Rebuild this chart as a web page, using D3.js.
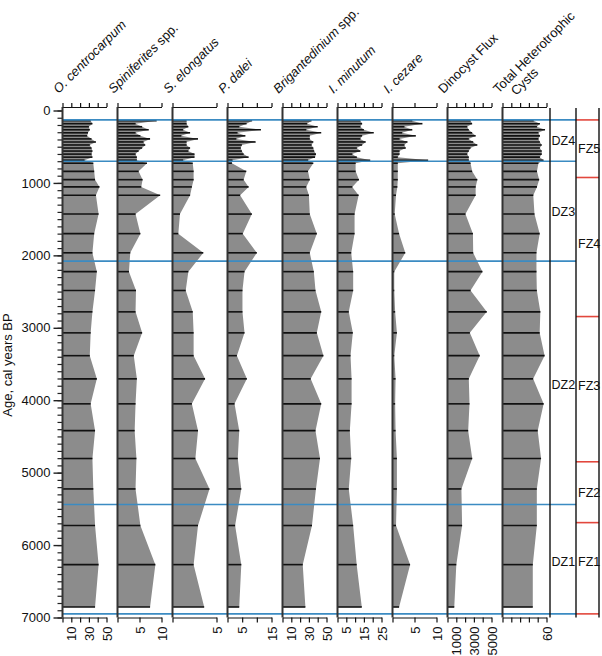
<!DOCTYPE html>
<html>
<head>
<meta charset="utf-8">
<script src="https://cdn.jsdelivr.net/npm/d3@7"></script>
<style>
  body { margin: 0; background: #fff; }
  svg { font-family: "Liberation Sans", Arial, sans-serif; }
</style>
</head>
<body>
<div id="vis-holder"></div>
<script>
// Sample ages (cal years BP)
const ages = [140, 182, 224, 266, 308, 350, 392, 434, 476, 518, 560, 602, 644, 686, 728,
              840, 955, 1055, 1170, 1430, 1700, 1965, 2225, 2485, 2780, 3070, 3385, 3705,
              4050, 4420, 4805, 5225, 5730, 6270, 6855];

// Series values, one per sample age
const oCentrocarpum = [32, 34, 30, 31, 29, 28, 33, 38, 31, 33, 34, 33, 34, 25, 35,
                       36, 37, 42, 38, 41, 36, 34, 39, 37, 34, 32, 31, 39, 32, 37, 34, 35, 37, 41, 37];
const spiniferites = [8.9, 4.1, 5.6, 7.1, 4.1, 5.2, 7.4, 5.9, 6.3, 5.6, 4.8, 4.1, 4.4, 4.4, 6.7,
                      4.8, 5.7, 5.4, 9.7, 4.1, 5.2, 2.9, 2.6, 4.2, 4.1, 5.6, 3.7, 4.4, 4.1, 3.9, 4.3, 4.1, 5.2, 8.6, 7.4];
const sElongatus = [1.6, 1.6, 1.8, 1.2, 2.0, 1.0, 2.9, 1.6, 1.6, 2.0, 1.8, 2.5, 2.5, 1.2, 2.3,
                    2.4, 2.4, 2.2, 2.0, 0.85, 0.66, 3.5, 1.8, 1.5, 2.3, 2.4, 2.4, 3.7, 2.2, 2.9, 2.6, 4.2, 2.9, 2.4, 3.6];
const pDalei = [8.4, 6.5, 4.0, 11.4, 3.4, 6.1, 3.0, 9.6, 4.9, 4.5, 4.9, 5.5, 7.2, 1.7, 1.5,
                6.4, 5.5, 7.2, 4.3, 8.3, 5.2, 10, 5.8, 5.1, 5.1, 5.8, 3.2, 6.6, 2.4, 4.0, 3.5, 4.7, 2.6, 4.7, 4.0];
const brigantedinium = [33, 28, 40, 27, 44, 31, 31, 35, 33, 35, 36, 38, 37, 29, 35,
                        29, 31, 27, 30, 31, 39, 31, 35.6, 37.5, 44, 39, 46.5, 32, 44, 37.5, 42.6, 38, 33.5, 23, 26];
const iMinutum = [13, 14, 13, 15, 20.6, 14, 13, 16, 14, 11, 13, 8.4, 11, 18.6, 10.3,
                  10.3, 12.2, 8.4, 12, 9.7, 9.7, 7.8, 8.9, 8.9, 6.4, 8.7, 7.4, 8, 8, 7, 7.8, 6.4, 8.9, 10.9, 13.8];
const iCezare = [4.5, 6.8, 2.7, 4.5, 2.2, 5.3, 1.6, 3.4, 2.7, 3.0, 1.6, 1.6, 1.2, 8.1, 1.2,
                 1.2, 1.2, 1.1, 0.8, 0.5, 1.5, 2.9, 0.4, 0.4, 0.6, 1.0, 0.4, 0.7, 0.6, 0.7, 1.0, 1.0, 0.8, 4.0, 1.5];
const dinocystFlux = [2620, 2800, 2240, 2420, 2800, 3200, 2420, 2920, 3390, 2620, 2420, 2240, 2420, 2420, 2620,
                      2800, 3390, 3200, 3200, 2040, 2890, 2920, 3970, 2620, 4460, 2540, 3660, 2420, 2500, 2350,
                      2810, 1580, 1660, 1000, 770];
const totalHetero = [42.5, 51, 47, 58, 49, 51, 49, 51, 53.5, 51, 53.5, 53.5, 51, 56, 49,
                     47, 50, 47, 42, 43.6, 50.7, 46.3, 46.3, 46.8, 51.6, 50.7, 57.4, 41.8, 56.1, 48,
                     52.6, 46.8, 46.8, 41.3, 41.3];

// Panel headers (parts: text, italic?)
const panelTitles = [
  [["O. centrocarpum", true]],
  [["Spiniferites", true], [" spp.", false]],
  [["S. elongatus", true]],
  [["P. dalei", true]],
  [["Brigantedinium", true], [" spp.", false]],
  [["I. minutum", true]],
  [["I. cezare", true]],
  [["Dinocyst Flux", false]],
  [["Total Heterotrophic", false]]
];
const panelSeries = [oCentrocarpum, spiniferites, sElongatus, pDalei, brigantedinium,
                     iMinutum, iCezare, dinocystFlux, totalHetero];
const panelMax = [50, 10, 5, 15, 50, 25, 10, 5000, 60];
const panelTicks = [
  [0, 10, 20, 30, 40, 50], [0, 5, 10], [0, 5], [0, 5, 10, 15], [0, 10, 20, 30, 40, 50],
  [0, 5, 10, 15, 20, 25], [0, 5, 10], [0, 1000, 2000, 3000, 4000, 5000], [0, 12, 24, 36, 48, 60]
];
const panelTickLabels = [
  [10, 30, 50], [5, 10], [5], [5, 15], [10, 30, 50], [5, 15, 25], [5, 10], [1000, 3000, 5000], [30, 60]
];

// Zonation
const dzBounds = [130, 700, 2080, 5440, 6950];
const dzNames = ["DZ4", "DZ3", "DZ2", "DZ1"];
const dzLabelAges = [420, 1400, 3780, 6230];
const fzBounds = [130, 925, 2845, 4850, 5690, 6950];
const fzNames = ["FZ5", "FZ4", "FZ3", "FZ2", "FZ1"];
const fzLabelAges = [520, 1840, 3800, 5270, 6230];
const ageMajor = [0, 1000, 2000, 3000, 4000, 5000, 6000, 7000];

// Set dimensions
const width = 602;
const height = 656;
const topAxisY = 107;
const bottomAxisY = 617.5;
const dzLeft = 550, fzLeft = 576, fzRight = 599;

const svg = d3.select("#vis-holder")
              .append("svg")
              .attr("width", width)
              .attr("height", height);

// Age scale (shared by all panels)
const y = d3.scaleLinear()
            .domain([0, 7000])
            .range([110.5, bottomAxisY]);

// Band for panel placement
const band = d3.scaleBand()
               .domain(d3.range(panelSeries.length))
               .range([62.5, 546.5])
               .paddingInner(0.2);

// Age axis: minor and major ticks
svg.append("g")
   .attr("transform", `translate(62.5,0)`)
   .call(d3.axisLeft(y).tickValues(d3.range(0, 7001, 100)).tickSize(5).tickFormat(""))
   .call((g) => g.select(".domain").remove())
   .call((g) => g.selectAll("line").attr("stroke", "#222").attr("stroke-width", 1.2));

svg.append("g")
   .attr("transform", `translate(62.5,0)`)
   .call(d3.axisLeft(y).tickValues(ageMajor).tickSize(9).tickPadding(3).tickFormat(d3.format("d")))
   .attr("font-size", "13px")
   .attr("font-family", null)
   .call((g) => g.select(".domain").remove())
   .call((g) => g.selectAll("line").attr("stroke", "#222").attr("stroke-width", 1.4))
   .call((g) => g.selectAll("text").attr("fill", "#111"));

svg.append("text")
   .attr("transform", "translate(12,365) rotate(-90)")
   .attr("text-anchor", "middle")
   .attr("font-size", "13px")
   .attr("fill", "#111")
   .text("Age, cal years BP");

// Draw each panel
panelSeries.forEach((vals, i) => {
  const left = band(i);
  const x = d3.scaleLinear()
              .domain([0, panelMax[i]])
              .range([left, left + band.bandwidth()]);
  const pts = ages.map((a, j) => ({ age: a, v: vals[j] }));

  // silhouette
  const area = d3.area()
                 .x0(x(0))
                 .x1((d) => x(d.v))
                 .y((d) => y(d.age));
  svg.append("path")
     .datum(pts)
     .attr("d", area)
     .attr("fill", "#8c8c8c");

  // sample bars
  svg.append("g")
     .selectAll("line")
     .data(pts)
     .enter()
       .append("line")
       .attr("x1", x(0))
       .attr("x2", (d) => x(d.v))
       .attr("y1", (d) => y(d.age))
       .attr("y2", (d) => y(d.age))
       .attr("stroke", "#111")
       .attr("stroke-width", 1.6);

  // top axis (no labels)
  svg.append("g")
     .attr("transform", `translate(0,${topAxisY})`)
     .call(d3.axisTop(x).tickValues(panelTicks[i]).tickSize(4).tickSizeOuter(0).tickFormat(""))
     .call((g) => g.selectAll("line,path").attr("stroke", "#111").attr("stroke-width", 1.2));

  // bottom axis with rotated labels
  const lab = panelTickLabels[i];
  svg.append("g")
     .attr("transform", `translate(0,${bottomAxisY})`)
     .call(d3.axisBottom(x).tickValues(panelTicks[i]).tickSize(5).tickSizeOuter(0)
             .tickFormat((d) => lab.includes(d) ? d3.format("d")(d) : ""))
     .attr("font-size", "13px")
     .attr("font-family", null)
     .call((g) => g.selectAll("line,path").attr("stroke", "#111").attr("stroke-width", 1.2))
     .call((g) => g.selectAll("text")
                   .attr("transform", "rotate(-90)")
                   .attr("x", -9)
                   .attr("y", 0)
                   .attr("dy", "0.35em")
                   .attr("fill", "#111")
                   .style("text-anchor", "end"));

  // header label
  const t = svg.append("text")
               .attr("transform", `translate(${left - 4},94) rotate(-45)`)
               .attr("font-size", "13px")
               .attr("fill", "#111");
  panelTitles[i].forEach((p) => {
    t.append("tspan").attr("font-style", p[1] ? "italic" : "normal").text(p[0]);
  });
  if (i === panelSeries.length - 1) {
    t.append("tspan").attr("x", 11).attr("dy", 14).text("Cysts");
  }
});

// Zone boundaries (blue = dinocyst zones, red = foraminifera zones)
svg.append("g")
   .selectAll("line")
   .data(dzBounds)
   .enter()
     .append("line")
     .attr("x1", 62.5)
     .attr("x2", fzLeft)
     .attr("y1", (d) => y(d))
     .attr("y2", (d) => y(d))
     .attr("stroke", "#3b8bc2")
     .attr("stroke-width", 1.6);

svg.append("g")
   .selectAll("line")
   .data(fzBounds)
   .enter()
     .append("line")
     .attr("x1", fzLeft)
     .attr("x2", fzRight)
     .attr("y1", (d) => y(d))
     .attr("y2", (d) => y(d))
     .attr("stroke", "#e2473d")
     .attr("stroke-width", 1.6);

// Panel spines and zone column lines
svg.append("g")
   .selectAll("line")
   .data(d3.range(panelSeries.length))
   .enter()
     .append("line")
     .attr("x1", (i) => band(i))
     .attr("x2", (i) => band(i))
     .attr("y1", topAxisY)
     .attr("y2", bottomAxisY)
     .attr("stroke", "#333")
     .attr("stroke-width", 2);

svg.append("g")
   .selectAll("line")
   .data([dzLeft, fzLeft, fzRight])
   .enter()
     .append("line")
     .attr("x1", (d) => d)
     .attr("x2", (d) => d)
     .attr("y1", topAxisY + 1)
     .attr("y2", bottomAxisY)
     .attr("stroke", "#111")
     .attr("stroke-width", 1.4);

// Zone labels
svg.append("g")
   .selectAll("text")
   .data(dzNames)
   .enter()
     .append("text")
     .attr("x", dzLeft + 1.5)
     .attr("y", (d, i) => y(dzLabelAges[i]))
     .attr("dy", "0.35em")
     .attr("font-size", "12.5px")
     .attr("fill", "#111")
     .text((d) => d);

svg.append("g")
   .selectAll("text")
   .data(fzNames)
   .enter()
     .append("text")
     .attr("x", fzLeft + 2)
     .attr("y", (d, i) => y(fzLabelAges[i]))
     .attr("dy", "0.35em")
     .attr("font-size", "12.5px")
     .attr("fill", "#111")
     .text((d) => d);
</script>
</body>
</html>
